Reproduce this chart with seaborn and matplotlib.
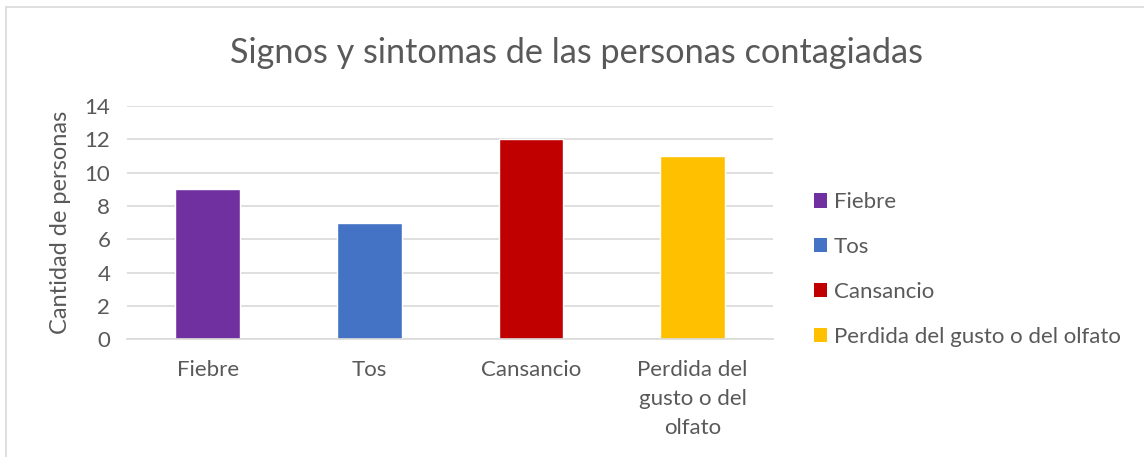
import numpy as np
import pandas as pd
import matplotlib
matplotlib.use("Agg")
import matplotlib.pyplot as plt
from matplotlib.patches import Rectangle, Patch
import seaborn as sns

# Datos del gráfico
categorias = ["Fiebre", "Tos", "Cansancio", "Perdida del gusto o del olfato"]
etiquetas_x = ["Fiebre", "Tos", "Cansancio", "Perdida del\ngusto o del\nolfato"]
cantidades = [9, 7, 12, 11]
colores = ["#7030A0", "#4472C4", "#C00000", "#FFC000"]

sns.set_theme(style="white")
plt.rcParams["font.family"] = ["Lato", "DejaVu Sans"]
gris = "#595959"

df = pd.DataFrame({"categoria": categorias, "cantidad": cantidades})

fig = plt.figure(figsize=(11.44, 4.57), dpi=100)
ax = fig.add_axes([0.111, 0.258, 0.565, 0.510])

sns.barplot(data=df, x="categoria", y="cantidad", hue="categoria",
            palette=colores, width=0.4, legend=False, saturation=1, ax=ax)

ax.set_ylim(0, 14)
ax.set_yticks(np.arange(0, 15, 2))
ax.set_xlim(-0.5, 3.5)
ax.yaxis.grid(True, color="#D9D9D9", linewidth=1.2)
ax.set_axisbelow(True)
for s in ["top", "right", "left"]:
    ax.spines[s].set_visible(False)
ax.spines["bottom"].set_color("#D9D9D9")
ax.spines["bottom"].set_linewidth(1.2)

ax.set_xticks(range(len(etiquetas_x)))
ax.set_xticklabels(etiquetas_x, fontsize=16, color=gris, linespacing=1.55, va="top")
ax.tick_params(axis="y", labelsize=16, labelcolor=gris, length=0, pad=12)
ax.tick_params(axis="x", length=0, pad=15)
ax.set_xlabel("")
ax.set_ylabel("Cantidad de personas", fontsize=17, color=gris, labelpad=10)

fig.suptitle("Signos y sintomas de las personas contagiadas", fontsize=24.7,
             color=gris, x=0.504, y=0.918)

# Leyenda
handles = [Patch(facecolor=c, edgecolor="none") for c in colores]
fig.legend(handles, categorias, loc="upper left", bbox_to_anchor=(0.694, 0.623),
           frameon=False, fontsize=16, labelcolor=gris, handlelength=0.6,
           handleheight=0.6, handletextpad=0.3, labelspacing=1.12)

# Borde del gráfico
fig.patches.append(Rectangle((6 / 1144, -0.1), 1.2, 1 - 7 / 457 + 0.1,
                             transform=fig.transFigure, fill=False,
                             edgecolor="#D9D9D9", linewidth=1.2))

fig.savefig("out.png", dpi=100)
